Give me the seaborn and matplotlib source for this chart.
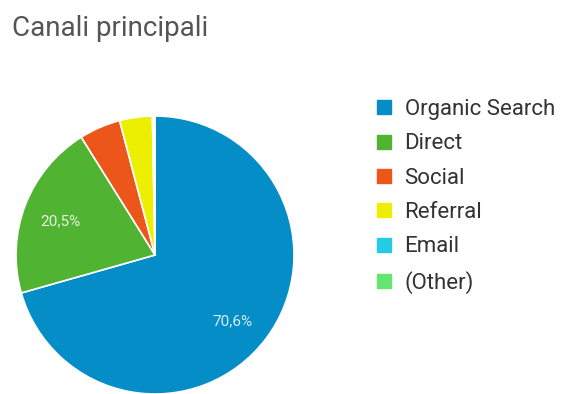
import matplotlib
matplotlib.use("Agg")
import matplotlib.pyplot as plt
from matplotlib.lines import Line2D
import seaborn as sns

# Traffic share by acquisition channel
channels = ["Organic Search", "Direct", "Social", "Referral", "Email", "(Other)"]
shares = [70.6, 20.5, 4.8, 3.8, 0.2, 0.1]
colors = ["#058DC7", "#50B432", "#ED561B", "#EDEF00", "#24CBE5", "#64E572"]
title = "Canali principali"

sns.set_theme(style="white")
plt.rcParams["font.family"] = ["Roboto", "DejaVu Sans"]
palette = sns.color_palette(colors)

W, H = 561, 394
fig = plt.figure(figsize=(W / 100, H / 100), dpi=100)
fig.patch.set_facecolor("white")

# square axes holding the pie (center ~ (155, 255) px from top-left, radius ~139 px)
cx, cy, r = 155, 255, 139
ax = fig.add_axes([(cx - r) / W, (H - cy - r) / H, 2 * r / W, 2 * r / H])


def pct_label(p):
    return f"{p:.1f}%".replace(".", ",") if p >= 10 else ""


wedges, _, autotexts = ax.pie(
    shares,
    colors=palette,
    startangle=90,
    counterclock=False,
    autopct=pct_label,
    pctdistance=0.72,
    wedgeprops=dict(edgecolor="white", linewidth=1.2),
    textprops=dict(color="white", alpha=0.85, fontsize=11),
)
for w in wedges:
    w.set_clip_on(False)
# nudge the large-slice label a bit lower inside its wedge
autotexts[0].set_position((0.555, -0.475))
autotexts[1].set_position((-0.68, 0.24))
ax.set_xlim(-1, 1)
ax.set_ylim(-1, 1)
ax.set_aspect("equal")
ax.axis("off")

fig.text(12 / W, 1 - 36 / H, title, fontsize=20, color="#555555",
         ha="left", va="baseline")

handles = [Line2D([], [], marker="s", linestyle="none", markersize=10,
                  markerfacecolor=c, markeredgecolor=c) for c in palette]
leg = fig.legend(handles, channels, loc="upper left",
                 bbox_to_anchor=(373 / W, 1 - 99 / H), frameon=False,
                 fontsize=16, labelspacing=0.60, handlelength=1.0,
                 handletextpad=0.42, borderpad=0, borderaxespad=0)
for t in leg.get_texts():
    t.set_color("#333333")

fig.savefig("out.png", dpi=100, facecolor="white")
